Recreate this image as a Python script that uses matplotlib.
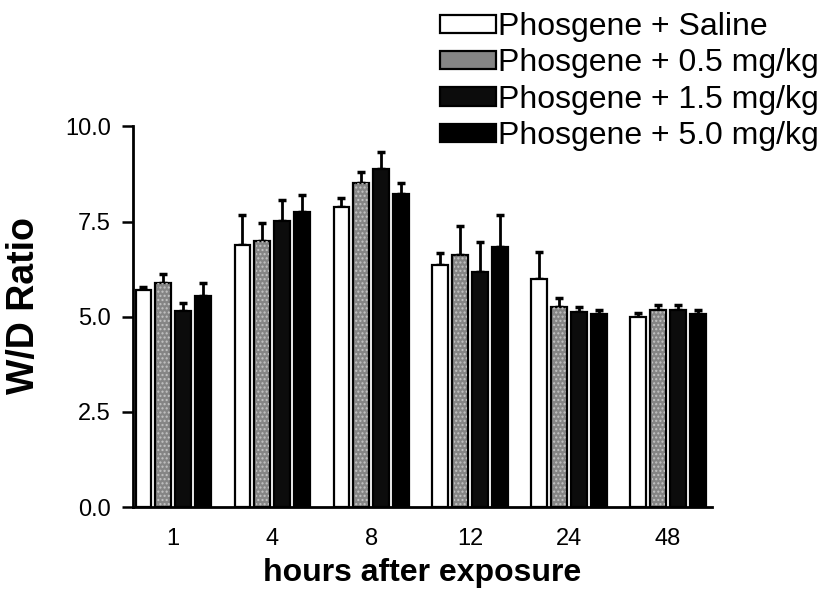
"""W/D ratio after phosgene exposure, grouped bars with one-sided SEM bars."""
import matplotlib

matplotlib.use("Agg")
import matplotlib.pyplot as plt
import numpy as np

plt.rcParams["font.family"] = ["Liberation Sans", "DejaVu Sans"]

hours = ["1", "4", "8", "12", "24", "48"]
series_labels = [
    "Phosgene + Saline",
    "Phosgene + 0.5 mg/kg",
    "Phosgene + 1.5 mg/kg",
    "Phosgene + 5.0 mg/kg",
]

saline = [5.70, 6.88, 7.88, 6.37, 6.00, 4.99]
saline_err = [0.08, 0.80, 0.25, 0.31, 0.70, 0.11]
dose_05 = [5.89, 6.99, 8.50, 6.63, 5.26, 5.17]
dose_05_err = [0.24, 0.48, 0.29, 0.75, 0.23, 0.15]
dose_15 = [5.15, 7.52, 8.89, 6.18, 5.13, 5.17]
dose_15_err = [0.20, 0.54, 0.43, 0.78, 0.13, 0.15]
dose_50 = [5.54, 7.75, 8.23, 6.82, 5.07, 5.06]
dose_50_err = [0.35, 0.44, 0.29, 0.84, 0.10, 0.11]

means = [saline, dose_05, dose_15, dose_50]
errs = [saline_err, dose_05_err, dose_15_err, dose_50_err]
faces = ["white", "#858585", "#0c0c0c", "black"]

fig = plt.figure(figsize=(8.27, 5.96), dpi=100)
ax = fig.add_axes([0.161, 0.149, 0.700, 0.639])

x = np.arange(len(hours))
offsets = [-0.3, -0.1, 0.1, 0.3]
handles = []
for i in range(4):
    bars = ax.bar(x + offsets[i], means[i], width=0.16, color=faces[i],
                  edgecolor="black", linewidth=1.6, label=series_labels[i], zorder=2)
    if i == 1:
        # light speckle on the grey bars, like the stippled print
        ax.bar(x + offsets[i], means[i], width=0.13, color="none",
               edgecolor="#c4c4c4", linewidth=0, hatch="....", zorder=3)
    ax.errorbar(x + offsets[i], means[i],
                yerr=[np.zeros(len(hours)), errs[i]], fmt="none",
                ecolor="black", elinewidth=2, capsize=3, capthick=2.5, zorder=1)
    handles.append(bars)

ax.set_xlim(-0.404, 5.444)
ax.set_ylim(0, 10)
ax.set_yticks([0, 2.5, 5.0, 7.5, 10.0])
ax.set_yticklabels([f"{v:.1f}" for v in [0, 2.5, 5.0, 7.5, 10.0]])
ax.set_xticks(x)
ax.set_xticklabels(hours)
ax.tick_params(axis="y", length=8, width=1.8, pad=8, labelsize=17)
ax.tick_params(axis="x", length=0, pad=15, labelsize=17)

for side in ["top", "right"]:
    ax.spines[side].set_visible(False)
for side in ["left", "bottom"]:
    ax.spines[side].set_linewidth(2)

ax.set_ylabel("W/D Ratio", fontsize=27, fontweight="heavy")
ax.yaxis.set_label_coords(-0.158, 0.53)
ax.set_xlabel("hours after exposure", fontsize=23, fontweight="heavy", labelpad=6)

fig.legend(handles, series_labels, loc="upper left",
           bbox_to_anchor=(440 / 827, 1 - 12 / 596), frameon=False,
           fontsize=23, handlelength=1.75, handleheight=0.5,
           handletextpad=0.08, labelspacing=0.2, borderpad=0, borderaxespad=0)

fig.savefig("out.png", dpi=100)
